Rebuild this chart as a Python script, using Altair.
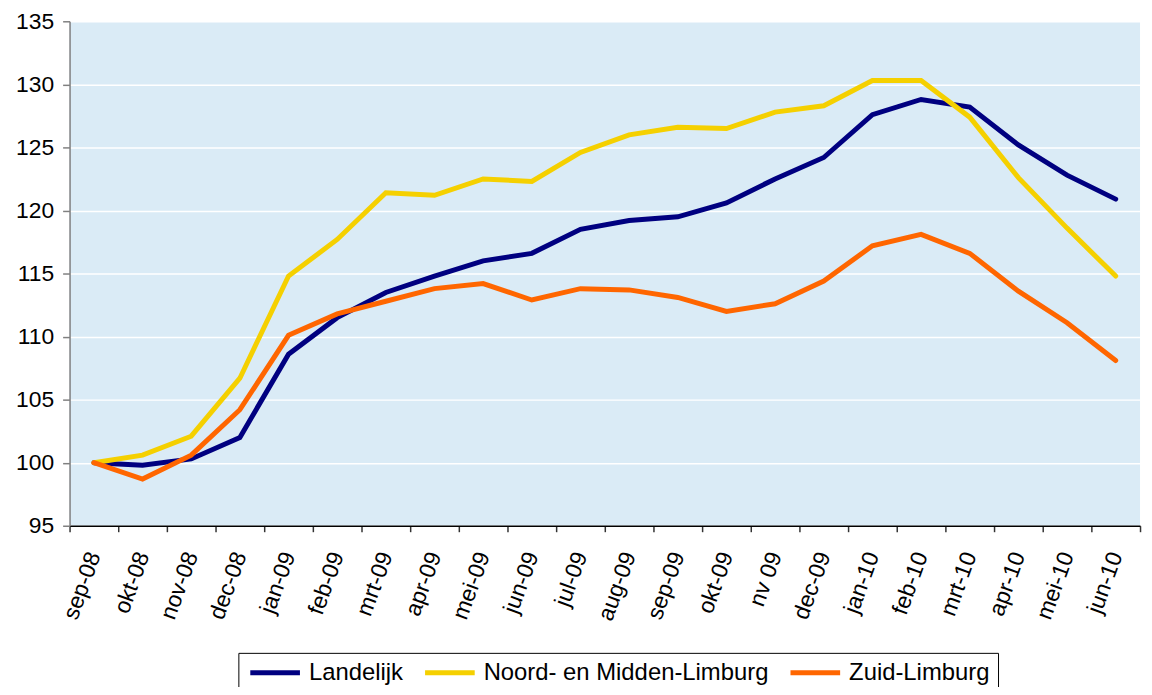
import altair as alt
import pandas as pd

months = ["sep-08", "okt-08", "nov-08", "dec-08", "jan-09", "feb-09", "mrt-09",
          "apr-09", "mei-09", "jun-09", "jul-09", "aug-09", "sep-09", "okt-09",
          "nv 09", "dec-09", "jan-10", "feb-10", "mrt-10", "apr-10", "mei-10", "jun-10"]

landelijk = [100, 99.8, 100.3, 102.0, 108.6, 111.5, 113.5, 114.8, 116.0, 116.6, 118.5,
             119.2, 119.5, 120.6, 122.5, 124.2, 127.6, 128.8, 128.2, 125.2, 122.8, 120.9]
noord = [100, 100.6, 102.1, 106.7, 114.8, 117.7, 121.4, 121.2, 122.5, 122.3, 124.6,
         126.0, 126.6, 126.5, 127.8, 128.3, 130.3, 130.3, 127.4, 122.6, 118.6, 114.8]
zuid = [100, 98.7, 100.6, 104.2, 110.1, 111.8, 112.8, 113.8, 114.2, 112.9, 113.8,
        113.7, 113.1, 112.0, 112.6, 114.4, 117.2, 118.1, 116.6, 113.6, 111.1, 108.1]

series_names = ["Landelijk", "Noord- en Midden-Limburg", "Zuid-Limburg"]
series_colors = ["#000080", "#F5D000", "#FF6600"]
y_ticks = [95, 100, 105, 110, 115, 120, 125, 130, 135]

rows = []
for name, vals in zip(series_names, [landelijk, noord, zuid]):
    for m, v in zip(months, vals):
        rows.append({"maand": m, "index": v, "reeks": name})
df = pd.DataFrame(rows)

FONT = "Liberation Sans"

chart = alt.Chart(df).mark_line(strokeWidth=5, strokeCap="round").encode(
    x=alt.X("maand:N", sort=months, bandPosition=0.5,
            scale=alt.Scale(type="band", domain=months, paddingInner=0, paddingOuter=0),
            axis=alt.Axis(title=None, tickBand="extent", labelAngle=290, labelAlign="right",
                          labelBaseline="middle", labelFontSize=23, labelPadding=21,
                          labelColor="black", labelFont=FONT, tickSize=6, tickColor="#333333",
                          tickWidth=1.5, domainColor="black", domainWidth=1.5, grid=False,
                          labelOverlap=False)),
    y=alt.Y("index:Q", scale=alt.Scale(domain=[95, 135], nice=False, zero=False),
            axis=alt.Axis(title=None, values=y_ticks, labelFontSize=23, labelFont=FONT,
                          labelColor="black", labelPadding=9, tickSize=7, tickColor="#808080",
                          tickWidth=1.5, domainColor="#808080", domainWidth=1.5,
                          grid=True, gridColor="white", gridWidth=1.5)),
    color=alt.Color("reeks:N", sort=series_names,
                    scale=alt.Scale(domain=series_names, range=series_colors),
                    legend=alt.Legend(title=None, orient="none", legendX=170, legendY=636,
                                      direction="horizontal",
                                      symbolType="M-3.125,0L3.125,0",
                                      symbolSize=256, symbolOffset=17, symbolStrokeWidth=5,
                                      labelFontSize=24, labelFont=FONT, labelColor="black",
                                      labelLimit=500, labelOffset=22, columnPadding=12,
                                      padding=8, strokeColor="black", fillColor="white")),
).properties(
    width=1078,
    height=508,
    autosize=alt.AutoSizeParams(type="none"),
    padding={"left": 62, "top": 11, "right": 4, "bottom": 160},
).configure(
    background="white",
).configure_view(
    fill="#DAEBF6",
    strokeWidth=0,
)

chart.save("out.html", embed_options={"renderer": "svg", "actions": False})
